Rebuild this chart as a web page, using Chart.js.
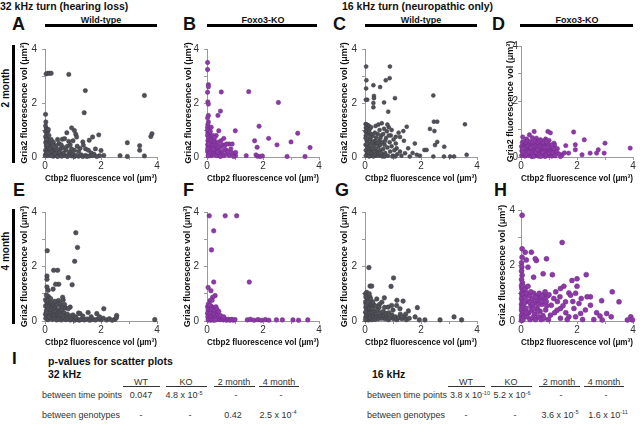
<!DOCTYPE html>
<html><head><meta charset="utf-8">
<script src="https://cdn.jsdelivr.net/npm/chart.js@4.4.1/dist/chart.umd.min.js"></script>
<style>
html,body{margin:0;padding:0;background:#fff;}
body{width:640px;height:424px;position:relative;overflow:hidden;font-family:"Liberation Sans",Arial,sans-serif;color:#111;}
.t{position:absolute;white-space:nowrap;line-height:1;}
.b{font-weight:bold;}
.L{font-size:18px;font-weight:bold;}
.h{font-size:9px;font-weight:bold;transform:translateX(-50%);top:15.5px;}
.bar{position:absolute;background:#000;}
.ul{position:absolute;background:#333;height:1px;top:386px;}
.c{font-size:9px;color:#333;transform:translateX(-50%);}
.r{font-size:9px;color:#333;}
.e{font-size:5.5px;position:relative;top:-3.5px;}
.rot{font-size:10px;font-weight:bold;transform:translate(-50%,-50%) rotate(-90deg);left:6px;}
canvas{position:absolute;}
</style></head><body>

<div class="t b" style="left:0;top:1px;font-size:10.5px">32 kHz turn (hearing loss)</div>
<div class="t b" style="left:342px;top:1px;font-size:10.5px">16 kHz turn (neuropathic only)</div>

<div class="t L" style="left:12px;top:14.5px">A</div>
<div class="t L" style="left:183px;top:14.5px">B</div>
<div class="t L" style="left:333px;top:14.5px">C</div>
<div class="t L" style="left:492px;top:14.5px">D</div>
<div class="t L" style="left:13px;top:180.5px">E</div>
<div class="t L" style="left:183px;top:180.5px">F</div>
<div class="t L" style="left:335px;top:180.5px">G</div>
<div class="t L" style="left:494px;top:180.5px">H</div>

<div class="t h" style="left:101px">Wild-type</div>
<div class="t h" style="left:263px">Foxo3-KO</div>
<div class="t h" style="left:421px">Wild-type</div>
<div class="t h" style="left:577px">Foxo3-KO</div>
<div class="bar" style="left:45px;top:24px;width:112px;height:3px"></div>
<div class="bar" style="left:207px;top:24px;width:110px;height:3px"></div>
<div class="bar" style="left:365px;top:24px;width:112px;height:3px"></div>
<div class="bar" style="left:520px;top:24px;width:113px;height:3px"></div>

<div class="t rot" style="top:88px">2 month</div>
<div class="bar" style="left:12px;top:45px;width:3px;height:118px"></div>
<div class="t rot" style="top:251px">4 month</div>
<div class="bar" style="left:12px;top:209px;width:3px;height:115px"></div>

<div class="t b" style="left:12px;top:349.5px;font-size:17px">I</div>
<div class="t b" style="left:48px;top:356px;font-size:10.5px">p-values for scatter plots</div>
<div class="t b" style="left:48px;top:368.5px;font-size:10.5px">32 kHz</div>
<div class="t b" style="left:372px;top:368.5px;font-size:10.5px">16 kHz</div>

<!-- 32 kHz table -->
<div class="t c" style="left:141px;top:377.6px">WT</div>
<div class="t c" style="left:186px;top:377.6px">KO</div>
<div class="t c" style="left:234px;top:377.6px">2 month</div>
<div class="t c" style="left:279px;top:377.6px">4 month</div>
<div class="ul" style="left:123px;width:37px"></div>
<div class="ul" style="left:166px;width:41px"></div>
<div class="ul" style="left:214px;width:41px"></div>
<div class="ul" style="left:259px;width:40px"></div>
<div class="t r" style="left:42px;top:391px">between time points</div>
<div class="t c" style="left:141px;top:391px">0.047</div>
<div class="t c" style="left:184px;top:391px">4.8 x 10<span class="e">-5</span></div>
<div class="t c" style="left:236px;top:391px">-</div>
<div class="t c" style="left:281px;top:391px">-</div>
<div class="t r" style="left:42px;top:410.6px">between genotypes</div>
<div class="t c" style="left:141px;top:410.6px">-</div>
<div class="t c" style="left:190px;top:410.6px">-</div>
<div class="t c" style="left:233px;top:410.6px">0.42</div>
<div class="t c" style="left:278px;top:410.6px">2.5 x 10<span class="e">-4</span></div>

<!-- 16 kHz table -->
<div class="t c" style="left:466px;top:377.6px">WT</div>
<div class="t c" style="left:511px;top:377.6px">KO</div>
<div class="t c" style="left:559px;top:377.6px">2 month</div>
<div class="t c" style="left:604px;top:377.6px">4 month</div>
<div class="ul" style="left:448px;width:37px"></div>
<div class="ul" style="left:491px;width:41px"></div>
<div class="ul" style="left:539px;width:41px"></div>
<div class="ul" style="left:584px;width:40px"></div>
<div class="t r" style="left:367px;top:391px">between time points</div>
<div class="t c" style="left:470px;top:391px">3.8 x 10<span class="e">-10</span></div>
<div class="t c" style="left:512px;top:391px">5.2 x 10<span class="e">-6</span></div>
<div class="t c" style="left:561px;top:391px">-</div>
<div class="t c" style="left:606px;top:391px">-</div>
<div class="t r" style="left:367px;top:410.6px">between genotypes</div>
<div class="t c" style="left:466px;top:410.6px">-</div>
<div class="t c" style="left:515px;top:410.6px">-</div>
<div class="t c" style="left:560px;top:410.6px">3.6 x 10<span class="e">-5</span></div>
<div class="t c" style="left:608px;top:410.6px">1.6 x 10<span class="e">-11</span></div>

<script>
// ---- data: [Ctbp2 volume, Gria2 volume] per synapse ----
const wt2mo32k = [
[0.04,3.08],[0.1,3.1],[0.16,3.1],[0.22,3.1],[0.85,3.06],[1.44,2.46],[1.4,1.64],[3.55,2.28],[3.82,0.86],[3.78,0.76],[2.94,0.53],[3.38,0.42],[3.38,0.25],[3.55,0.04],[2.94,0.02],[2.68,0.05],[2.0,0.24],[2.1,0.06],[1.95,0.05],[1.92,0.82],[1.7,0.74],[1.58,0.62],[1.35,0.56],[1.37,0.44],[1.45,0.3],[1.25,0.32],[1.1,0.84],[1.13,0.74],[0.95,1.08],[1.05,0.98],[0.78,0.9],[0.62,0.66],[0.7,0.68],[0.85,0.58],[0.9,0.45],[1.0,0.6],[0.5,0.5],[0.4,0.42],[0.3,0.55],[0.55,0.3],[0.65,0.35],[0.75,0.25],[0.8,0.4],[1.15,0.4],[1.2,0.2],[1.55,0.25],[1.65,0.15],[1.8,0.3],[1.75,0.1],
[0.02,1.58],[0.03,1.3],[0.05,1.05],[0.02,0.95],[0.06,0.85],[0.1,0.95],[0.02,0.75],[0.08,0.7],[0.12,0.6],[0.03,0.55],[0.15,0.5],[0.05,0.4],[0.1,0.35],[0.2,0.4],[0.02,0.25],[0.08,0.2],[0.15,0.25],[0.25,0.3],[0.03,0.1],[0.1,0.05],[0.18,0.12],[0.28,0.15],[0.35,0.25],[0.05,0.65],[0.14,0.8],[0.22,0.65],[0.18,0.3],[0.02,1.15],[0.07,1.0],[0.12,1.02],[0.04,0.5],[0.09,0.45],[0.01,0.05],[0.05,0.15],[0.22,0.2],
[0.3,0.03],[0.4,0.08],[0.45,0.02],[0.55,0.1],[0.6,0.03],[0.7,0.06],[0.8,0.02],[0.85,0.1],[0.95,0.04],[1.0,0.1],[1.05,0.02],[1.1,0.06],[1.2,0.03],[1.3,0.08],[1.35,0.02],[1.45,0.06],[1.5,0.02],[1.6,0.04],[1.7,0.05],[1.85,0.02],[0.5,0.18],[0.65,0.15],[0.9,0.2],[1.05,0.25],[0.35,0.12],[0.22,0.05],[0.12,0.15],[0.42,0.28],[0.28,0.42],[0.45,0.65],[0.58,0.45],[0.95,0.3]
];
const ko2mo32k = [
[0.02,3.5],[0.02,3.24],[0.05,2.68],[0.05,2.6],[0.02,2.4],[0.51,2.41],[1.49,2.42],[2.55,2.02],[0.03,2.04],[0.05,1.96],[0.48,1.7],[0.39,1.54],[0.05,1.54],[0.05,1.3],[0.42,0.97],[1.01,0.97],[1.86,1.14],[2.2,0.69],[1.7,0.6],[1.79,0.36],[2.5,0.45],[3.0,0.56],[3.24,0.88],[3.68,0.35],[3.5,0.02],[2.86,0.02],[1.8,0.03],[1.9,0.02],[1.98,0.04],[1.75,0.08],[1.4,0.05],[1.02,0.05],[1.02,0.17],[0.67,0.27],[0.6,0.69],[0.79,0.48],[0.9,0.48],
[0.02,1.45],[0.03,1.2],[0.02,1.1],[0.06,1.0],[0.03,0.9],[0.08,0.85],[0.02,0.8],[0.1,0.75],[0.05,0.7],[0.12,0.65],[0.03,0.6],[0.08,0.55],[0.15,0.5],[0.02,0.45],[0.1,0.4],[0.2,0.45],[0.05,0.35],[0.15,0.3],[0.25,0.35],[0.02,0.2],[0.1,0.2],[0.2,0.15],[0.3,0.2],[0.05,0.08],[0.15,0.05],[0.25,0.08],[0.35,0.05],[0.02,1.0],[0.06,0.5],[0.18,0.6],[0.28,0.55],[0.35,0.45],[0.3,0.3],[0.4,0.35],[0.45,0.25],[0.5,0.4],[0.55,0.45],[0.65,0.45],[0.7,0.48],[0.55,0.15],[0.45,0.1],[0.6,0.05],[0.7,0.1],[0.8,0.06],[0.9,0.15],[0.85,0.3],[0.75,0.2],[0.5,0.6],[0.4,0.55],[0.25,0.65],[0.2,0.8],[0.12,0.95],[0.02,0.3],[0.08,0.12],[0.38,0.18],[0.48,0.02],[0.62,0.28],[0.95,0.02],[0.33,0.8],[0.15,1.1],[0.22,0.28],[0.04,0.04],[0.27,0.72]
];
const wt2mo16k = [
[0.04,3.35],[0.89,3.35],[0.88,2.92],[0.74,2.84],[0.05,2.84],[0.04,2.54],[0.3,2.66],[0.54,2.59],[0.08,2.12],[0.03,2.12],[0.32,2.26],[0.32,2.18],[0.3,2.0],[0.3,1.84],[0.68,2.02],[1.07,2.18],[0.83,1.68],[2.44,2.28],[2.46,1.31],[2.58,1.31],[2.32,1.04],[2.48,0.96],[3.57,1.21],[2.58,0.56],[2.5,0.44],[2.83,0.38],[3.63,0.08],[3.18,0.02],[3.04,0.02],[2.82,0.02],[2.44,0.02],[2.12,0.26],[2.2,0.26],[1.96,0.05],[1.85,0.08],[1.78,0.5],[1.54,0.32],[1.43,0.14],[1.49,1.12],[1.37,0.96],[1.25,0.74],[1.39,0.6],[1.13,0.32],[1.25,0.2],
[0.02,1.22],[0.06,1.2],[0.1,1.18],[0.14,1.15],[0.03,1.08],[0.08,1.05],[0.12,1.0],[0.02,0.95],[0.06,0.9],[0.1,0.85],[0.15,0.92],[0.03,0.8],[0.18,1.05],[0.22,1.1],
[0.02,0.7],[0.06,0.6],[0.1,0.65],[0.14,0.5],[0.02,0.45],[0.08,0.38],[0.12,0.3],[0.18,0.4],[0.03,0.25],[0.07,0.15],[0.12,0.08],[0.18,0.2],[0.03,0.05],[0.22,0.05],[0.25,0.3],[0.28,0.15],[0.3,0.5],[0.32,0.42],[0.35,0.6],[0.38,0.3],[0.4,0.72],[0.42,0.5],[0.45,0.85],[0.45,0.2],[0.48,0.38],[0.5,0.6],[0.5,0.05],[0.52,1.0],[0.55,0.45],[0.55,0.25],[0.58,0.8],[0.6,0.1],[0.62,0.55],[0.65,0.3],[0.68,1.05],[0.7,0.45],[0.72,0.15],[0.75,0.7],[0.78,0.95],[0.8,0.35],[0.82,0.05],[0.85,1.1],[0.88,0.55],[0.9,0.2],[0.92,0.8],[0.95,0.4],[1.0,0.05],[1.02,0.65],[1.05,0.25],[1.1,0.5],[1.15,0.1],[1.2,0.9],[0.35,0.9],[0.28,0.78],[0.2,0.65],[0.25,0.55],[0.38,1.15],[0.4,0.05],[0.15,0.02],[0.3,0.02],[0.62,0.02],[0.7,0.02],[0.55,0.7],[0.65,0.85],[0.42,0.15],[0.35,0.1],[0.48,1.2],[0.6,1.25],[0.8,1.2],[0.22,0.85],[0.18,0.75],[0.08,0.5],[0.12,0.18],[0.98,0.02],[1.08,0.02],[1.3,0.05],[1.6,0.02],[1.7,0.15],[1.1,0.75],[0.95,1.0],[0.85,0.8],[0.72,0.6],[0.58,0.15],[0.45,0.52],[0.33,0.2]
];
const ko2mo16k = [
[0.06,0.72],[0.3,0.8],[0.47,0.92],[0.96,0.92],[1.05,0.87],[1.88,0.9],[2.26,0.62],[3.0,0.5],[3.9,0.32],[1.6,0.41],[1.94,0.44],[1.94,0.26],[1.7,0.14],[2.18,0.08],[2.7,0.14],[2.76,0.26],[2.97,0.14],[2.47,0.14],[1.47,0.08],[1.41,0.02],[0.7,0.62],[0.88,0.65],[0.4,0.7],[0.55,0.68],[0.2,0.65],[0.85,0.58],[1.0,0.6],[1.18,0.5],[1.3,0.3],[1.35,0.12],[1.55,0.15],[1.2,0.42],[1.25,0.2],
[0.02,0.05],[0.08,0.12],[0.14,0.03],[0.2,0.15],[0.26,0.06],[0.32,0.11],[0.38,0.02],[0.44,0.14],[0.5,0.05],[0.56,0.1],[0.62,0.03],[0.68,0.12],[0.74,0.06],[0.8,0.1],[0.86,0.02],[0.92,0.13],[0.98,0.05],[1.04,0.09],[1.1,0.03],[1.16,0.11],[1.22,0.04],
[0.03,0.22],[0.1,0.28],[0.16,0.2],[0.22,0.31],[0.28,0.24],[0.34,0.3],[0.4,0.21],[0.46,0.29],[0.52,0.23],[0.58,0.32],[0.64,0.2],[0.7,0.27],[0.76,0.22],[0.82,0.3],[0.88,0.24],[0.94,0.28],[1.0,0.2],[1.06,0.26],[1.12,0.22],[1.18,0.3],
[0.02,0.38],[0.07,0.44],[0.13,0.36],[0.19,0.47],[0.25,0.4],[0.31,0.5],[0.37,0.37],[0.43,0.45],[0.49,0.39],[0.55,0.48],[0.61,0.36],[0.67,0.43],[0.73,0.5],[0.79,0.38],[0.85,0.45],[0.91,0.4],[0.97,0.47],[1.03,0.37],[1.09,0.44],
[0.05,0.53],[0.12,0.56],[0.18,0.52],[0.24,0.58],[0.33,0.55],[0.42,0.54],[0.5,0.57],[0.6,0.53],[0.66,0.58],[0.78,0.54],[0.9,0.55],
[0.06,0.17],[0.17,0.09],[0.29,0.17],[0.41,0.08],[0.53,0.16],[0.65,0.09],[0.77,0.16],[0.89,0.08],[1.01,0.15],[0.12,0.33],[0.36,0.34],[0.6,0.26],[0.84,0.35],[0.05,0.3],[0.45,0.02],[0.71,0.02],[1.13,0.16],[0.95,0.35]
];
const wt4mo32k = [
[0.08,2.58],[1.1,3.24],[1.16,2.7],[1.06,2.19],[0.31,1.86],[0.45,1.86],[0.49,1.35],[0.38,1.35],[0.07,1.65],[0.07,1.53],[0.07,1.25],[0.11,1.13],[0.29,1.17],[0.83,1.59],[0.97,1.33],[0.65,0.77],[0.63,0.87],[0.48,0.75],[0.56,0.54],[0.72,0.48],[1.2,0.29],[1.54,0.31],[1.85,0.27],[2.1,0.45],[2.56,0.2],[3.92,0.05],[2.5,0.06],[0.9,0.51],[0.83,0.45],[1.25,0.27],
[0.02,0.78],[0.06,0.7],[0.1,0.75],[0.14,0.62],[0.02,0.55],[0.08,0.5],[0.18,0.55],[0.22,0.68],[0.26,0.5],[0.3,0.6],[0.34,0.45],[0.38,0.55],[0.42,0.62],[0.46,0.4],[0.05,0.38],[0.12,0.42],[0.2,0.35],[0.28,0.3],[0.36,0.35],[0.44,0.25],[0.52,0.32],[0.6,0.4],[0.02,0.25],[0.08,0.2],[0.15,0.28],[0.24,0.18],[0.32,0.2],[0.4,0.12],[0.5,0.18],[0.58,0.22],[0.68,0.3],[0.75,0.2],[0.03,0.1],[0.1,0.05],[0.18,0.12],[0.26,0.06],[0.34,0.1],[0.42,0.04],[0.5,0.08],[0.58,0.04],[0.66,0.1],[0.74,0.05],[0.82,0.1],[0.9,0.04],[0.98,0.08],[1.06,0.03],[1.14,0.07],[1.22,0.03],[1.3,0.06],[1.4,0.04],[1.5,0.07],[1.6,0.03],[1.7,0.06],[1.8,0.04],[1.9,0.08],[2.0,0.05],[2.08,0.1],[2.2,0.04],[2.3,0.08],[2.4,0.03],[0.8,0.25],[0.9,0.18],[1.0,0.22],[1.1,0.15],[1.35,0.18],[1.65,0.15],[1.95,0.15],[2.55,0.12],[0.12,0.9],[0.05,0.95],[0.2,0.82],[0.35,0.72],[0.55,0.65],[0.15,0.15],[0.06,0.3],[0.7,0.6]
];
const ko4mo32k = [
[0.08,3.86],[0.65,3.86],[1.06,3.86],[0.24,3.31],[0.16,2.61],[0.24,1.43],[1.51,1.43],[0.04,1.23],[0.14,1.11],[0.29,0.93],[0.2,0.87],[0.11,0.75],[0.18,0.76],
[0.02,0.52],[0.08,0.48],[0.14,0.55],[0.2,0.5],[0.26,0.45],[0.32,0.52],[0.04,0.4],[0.1,0.35],[0.16,0.42],[0.22,0.32],[0.28,0.38],[0.35,0.3],[0.02,0.28],[0.07,0.22],[0.13,0.27],[0.19,0.2],[0.25,0.25],[0.31,0.18],[0.38,0.22],[0.44,0.15],[0.03,0.15],[0.09,0.1],[0.15,0.14],[0.21,0.08],[0.27,0.12],[0.33,0.06],[0.4,0.1],[0.46,0.05],[0.52,0.08],[0.58,0.04],[0.64,0.07],[0.7,0.03],[0.76,0.06],[0.82,0.03],[0.88,0.06],[0.94,0.03],[1.0,0.05],[0.04,0.04],[0.12,0.03],[0.18,0.05],[0.24,0.03],[0.3,0.04],[0.05,0.62],[0.1,0.58],[0.55,0.12],[0.48,0.2],[0.6,0.15],[0.36,0.42],[0.42,0.35],
[1.44,0.04],[1.55,0.06],[1.68,0.03],[1.82,0.05],[1.94,0.03],[2.08,0.05],[2.21,0.03],[2.48,0.04],[2.69,0.04],[3.07,0.04],[3.27,0.03],[3.6,0.04]
];
const wt4mo16k = [
[0.14,1.96],[0.18,1.28],[0.24,1.28],[1.02,1.58],[0.93,1.27],[1.14,0.76],[1.36,0.73],[0.69,0.85],[1.87,0.49],[1.55,0.37],[1.79,0.15],[1.94,0.04],[2.14,0.04],[2.68,0.04],[3.18,0.15],[3.45,0.04],[0.83,0.51],[0.95,0.57],[1.13,0.57],[0.6,0.69],[0.51,0.6],[0.3,0.6],[0.42,0.81],
[0.02,1.0],[0.06,1.05],[0.1,0.95],[0.15,1.0],[0.03,0.88],[0.08,0.82],[0.13,0.75],[0.18,0.88],[0.02,0.7],[0.06,0.62],[0.11,0.55],[0.16,0.65],[0.21,0.5],[0.03,0.5],[0.07,0.42],[0.12,0.35],[0.17,0.45],[0.22,0.38],[0.27,0.45],[0.02,0.32],[0.06,0.25],[0.1,0.18],[0.15,0.28],[0.2,0.22],[0.25,0.3],[0.3,0.2],[0.35,0.35],[0.4,0.25],[0.03,0.15],[0.07,0.08],[0.12,0.04],[0.18,0.1],[0.24,0.05],[0.3,0.12],[0.36,0.06],[0.42,0.14],[0.48,0.08],[0.54,0.18],[0.6,0.1],[0.66,0.2],[0.72,0.08],[0.78,0.15],[0.84,0.05],[0.9,0.12],[0.96,0.22],[1.02,0.08],[1.08,0.15],[1.14,0.05],[1.2,0.12],[1.26,0.25],[1.32,0.08],[1.4,0.15],[1.48,0.05],[1.58,0.1],[0.45,0.4],[0.55,0.3],[0.65,0.35],[0.75,0.28],[0.85,0.3],[0.5,0.5],[0.28,0.7],[0.2,0.8],[0.38,0.55],[0.02,0.05],[0.04,0.6],[0.1,0.7],[0.7,0.5],[1.0,0.4],[1.25,0.45],[1.45,0.25]
];
const ko4mo16k = [
[0.04,3.81],[1.47,2.83],[0.04,2.6],[0.15,2.48],[0.04,2.3],[0.37,2.48],[0.19,2.2],[0.55,2.18],[0.51,2.24],[0.91,2.24],[0.25,1.94],[0.45,1.58],[0.79,1.7],[1.12,1.67],[2.33,1.67],[1.82,1.46],[2.0,1.25],[2.0,1.52],[3.26,1.05],[3.5,0.69],[2.88,0.73],[3.06,0.27],[3.22,0.15],[3.92,0.15],[3.98,0.04],[3.8,0.04],[2.82,0.18],[2.9,0.04],[2.48,0.57],[2.48,0.87],[2.36,0.87],[2.15,0.81],[2.07,0.63],[1.89,0.45],[2.13,0.27],[1.95,0.15],[1.71,0.15],[1.41,0.45],[1.59,0.69],[1.71,1.01],[1.77,0.93],[1.53,1.25],[1.41,1.17],[1.24,1.05],[1.39,0.87],[1.17,0.81],[1.08,0.57],[1.29,0.39],[1.05,0.21],[1.41,0.1],
[0.02,2.1],[0.03,1.95],[0.02,1.8],[0.04,1.65],[0.02,1.5],[0.05,1.38],[0.02,1.28],[0.03,1.18],[0.06,1.1],[0.02,1.0],[0.04,0.9],[0.02,0.8],[0.05,0.7],[0.02,0.6],[0.03,0.5],[0.02,0.4],[0.05,0.3],[0.02,0.2],[0.03,0.1],[0.02,0.02],[0.08,1.25],[0.09,0.95],[0.08,0.55],[0.1,0.15],[0.07,0.05],
[0.15,0.85],[0.2,1.0],[0.25,0.7],[0.3,0.9],[0.35,0.55],[0.4,0.8],[0.45,1.0],[0.5,0.65],[0.55,0.9],[0.6,0.75],[0.65,1.0],[0.7,0.85],[0.75,0.6],[0.8,0.95],[0.85,0.8],[0.9,0.7],[0.95,0.9],[0.18,0.45],[0.28,0.3],[0.38,0.4],[0.48,0.25],[0.58,0.45],[0.68,0.35],[0.78,0.2],[0.88,0.4],[0.22,0.15],[0.32,0.05],[0.42,0.12],[0.52,0.05],[0.62,0.15],[0.72,0.05],[0.82,0.1],[0.98,0.05],[0.12,0.65],[0.32,0.68],[0.42,0.6],[0.62,0.6],[0.72,0.7],[0.52,0.85],[0.35,1.05],[0.15,1.15],[0.25,1.25],[0.6,0.35],[0.45,0.45],[0.18,0.3],[0.86,1.05],[0.75,0.9],[0.92,0.55],[1.0,0.95],[1.3,0.7],[1.2,0.3],[1.5,0.55],[1.6,0.3],[1.65,0.05],[1.85,0.7],[2.2,0.05],[2.3,0.4],[2.6,0.05],[1.95,1.0],[2.7,0.3]
];
const xTicks = [0, 2, 4];
const yTicks = [0, 2, 4];
const xTitle = 'Ctbp2 fluorescence vol (\u03bcm\u00b3)';
const yTitle = 'Gria2 fluorescence vol (\u03bcm\u00b3)';

// ---- layout ----
const F = '"Liberation Sans", Arial, sans-serif';
const AX = '#9a9a9a';
const GRAY = ['#505058', '#3c3c42'];
const PURP = ['#8d3aa8', '#6e2a86'];
const COLS = [45, 207, 365, 521];
const ROWS = [46, 209];
const PW = 112, PH = [111, 112];

function panel(pts, col, row, clr, yW, tickPad, r) {
  const cv = document.createElement('canvas');
  const w = yW + PW + 8, h = 8 + PH[row] + 27;
  cv.width = w; cv.height = h;
  cv.style.left = (COLS[col] - yW) + 'px';
  cv.style.top = (ROWS[row] - 8) + 'px';
  cv.style.width = w + 'px'; cv.style.height = h + 'px';
  document.body.appendChild(cv);
  new Chart(cv, {
    type: 'scatter',
    data: { datasets: [{
      data: pts.map(p => ({x: p[0], y: p[1]})),
      backgroundColor: clr[0], borderColor: clr[1], borderWidth: 0.5,
      pointRadius: r, pointHoverRadius: r, clip: false
    }]},
    options: {
      responsive: false, animation: false, events: [],
      layout: { padding: { left: 0, top: 8, right: 8, bottom: 0 } },
      plugins: { legend: { display: false }, tooltip: { enabled: false } },
      scales: {
        x: {
          type: 'linear', min: 0, max: 4,
          afterFit: s => { s.height = 27; },
          border: { display: true, color: AX, width: 1 },
          grid: { display: true, drawOnChartArea: false, drawTicks: true, tickLength: 3, color: AX, lineWidth: 1 },
          ticks: { stepSize: 1, autoSkip: false, maxRotation: 0, padding: 0, color: '#333',
                   font: { family: F, size: 10 }, callback: v => xTicks.includes(v) ? String(v) : '' },
          title: { display: true, text: xTitle, color: '#111', padding: 0,
                   font: { family: F, size: 9, weight: 'bold' } }
        },
        y: {
          type: 'linear', min: 0, max: 4,
          afterFit: s => { s.width = yW; },
          border: { display: true, color: AX, width: 1 },
          grid: { display: true, drawOnChartArea: false, drawTicks: true, tickLength: 3, color: AX, lineWidth: 1 },
          ticks: { stepSize: 1, autoSkip: false, padding: tickPad, color: '#333',
                   font: { family: F, size: 10 }, callback: v => yTicks.includes(v) ? String(v) : '' },
          title: { display: true, text: yTitle, color: '#111', padding: 0,
                   font: { family: F, size: 9, weight: 'bold' } }
        }
      }
    }
  });
}

panel(wt2mo32k, 0, 0, GRAY, 26, 5, 2.2);
panel(ko2mo32k, 1, 0, PURP, 24, 5, 2.2);
panel(wt2mo16k, 2, 0, GRAY, 26, 5, 2.0);
panel(ko2mo16k, 3, 0, PURP, 16, 0, 2.2);
panel(wt4mo32k, 0, 1, GRAY, 26, 5, 2.3);
panel(ko4mo32k, 1, 1, PURP, 25, 5, 2.3);
panel(wt4mo16k, 2, 1, GRAY, 26, 5, 2.3);
panel(ko4mo16k, 3, 1, PURP, 24, 3, 2.5);
</script>
</body></html>
